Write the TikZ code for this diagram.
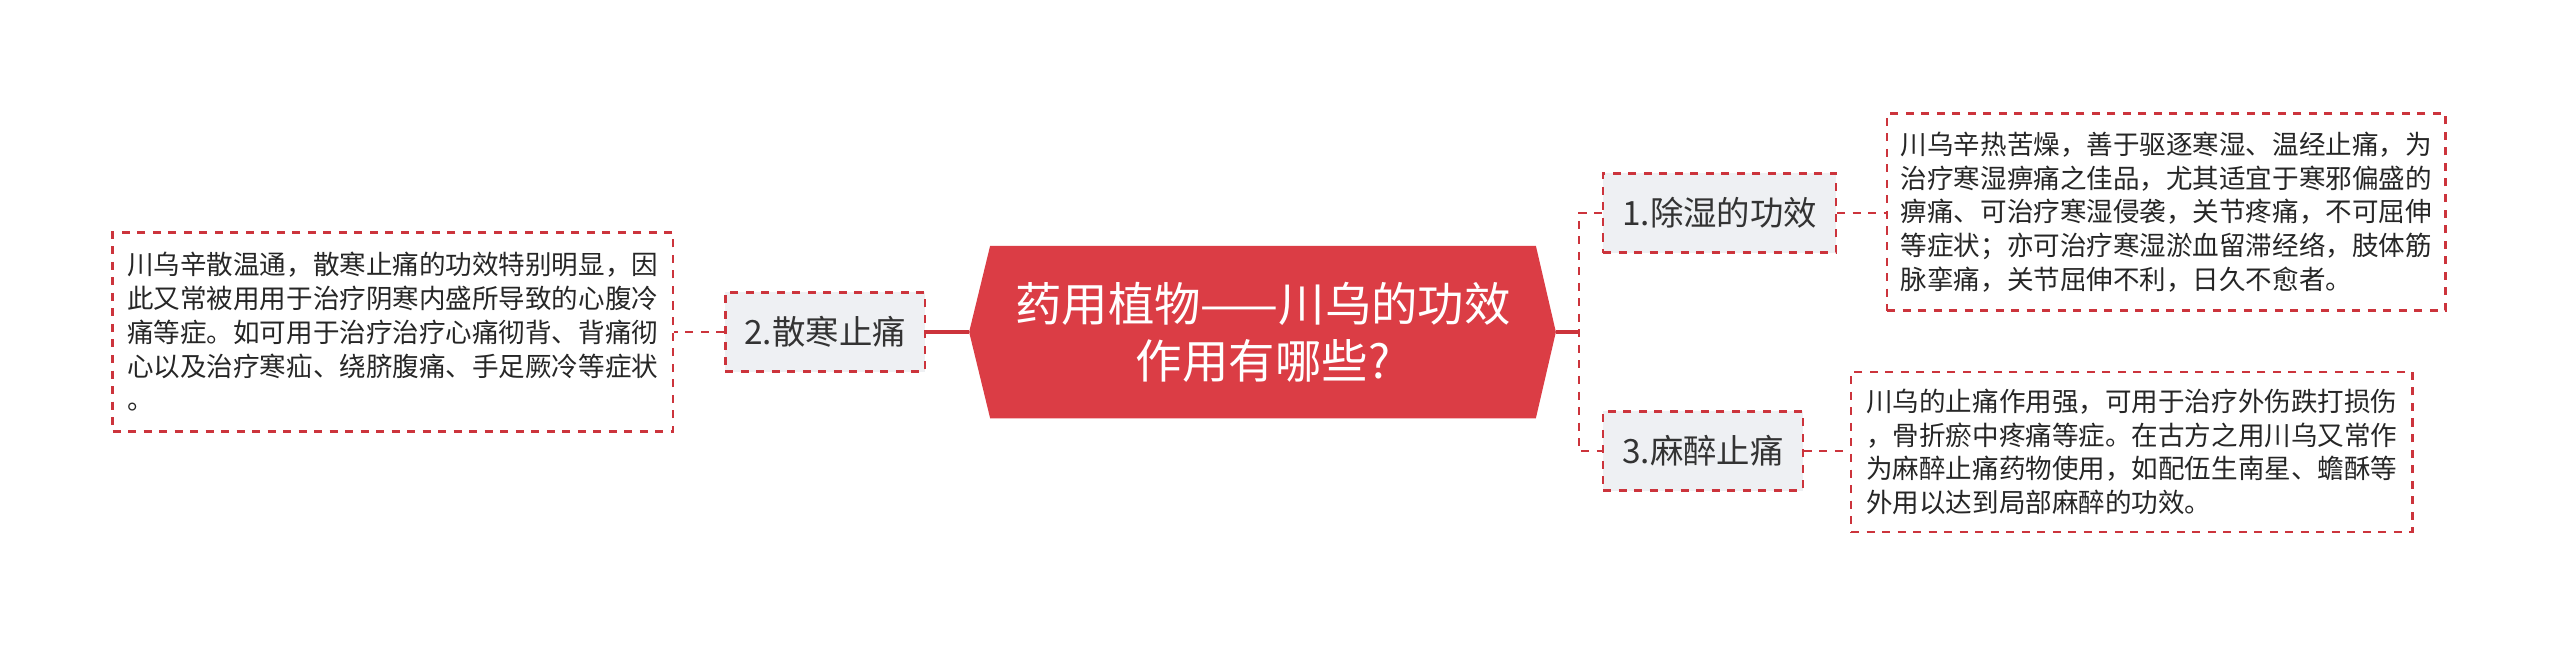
\documentclass[tikz,border=0pt]{standalone}
\usepackage{fontspec}
\newfontfamily\cjk{Noto Sans CJK SC}
\usetikzlibrary{backgrounds}
\definecolor{rootred}{RGB}{219,61,69}
\definecolor{linered}{RGB}{204,52,60}
\definecolor{boxgray}{RGB}{238,240,243}
\definecolor{txtgray}{RGB}{51,51,51}

\begin{document}
\begin{tikzpicture}[x=0.01cm,y=-0.01cm]
\tikzstyle{every node}+=[inner sep=0pt, font=\cjk]
\tikzstyle{dashline}=[draw=linered, line width=0.65pt, dash pattern=on 0.08cm off 0.075cm]
\tikzstyle{branch}=[dashline, fill=boxgray, text=txtgray, inner xsep=0.19cm, minimum height=0.79cm, font=\cjk\fontsize{9.5}{11}\selectfont]
\tikzstyle{detail}=[dashline, fill=white, text=black!85, align=left, font=\cjk\fontsize{7.55}{9.6}\selectfont]
\useasboundingbox (0,0) rectangle (2560,648);
% centre
\node[text=white, align=center, minimum width=5.44cm, minimum height=1.71cm, font=\cjk\fontsize{13.2}{16.2}\selectfont] (root) at (1263,332) {药用植物——川乌的功效\\作用有哪些?};
\coordinate (rootW) at ([xshift=-0.21cm]root.west);
\coordinate (rootE) at ([xshift=0.2cm]root.east);
\coordinate (spine) at ([xshift=0.23cm]rootE);
\begin{scope}[on background layer]
\fill[white] (0,0) rectangle (2560,648);
\fill[rootred] (rootW) -- (root.north west) -- (root.north east) -- (rootE) -- (root.south east) -- (root.south west) -- cycle;
\end{scope}
% branches
\node[branch, anchor=west] (b1) at (1602,213) {1.除湿的功效};
\node[branch, anchor=east] (b2) at (926,332) {2.散寒止痛};
\node[branch, anchor=west] (b3) at (1602,451) {3.麻醉止痛};
% details
\node[detail, anchor=west, minimum width=5.58cm, minimum height=1.97cm] (d1) at (1886,212) {川乌辛热苦燥，善于驱逐寒湿、温经止痛，为\\治疗寒湿痹痛之佳品，尤其适宜于寒邪偏盛的\\痹痛、可治疗寒湿侵袭，关节疼痛，不可屈伸\\等症状；亦可治疗寒湿淤血留滞经络，肢体筋\\脉挛痛，关节屈伸不利，日久不愈者。};
\node[detail, anchor=east, minimum width=5.60cm, minimum height=1.99cm] (d2) at (674,332) {川乌辛散温通，散寒止痛的功效特别明显，因\\此又常被用用于治疗阴寒内盛所导致的心腹冷\\痛等症。如可用于治疗治疗心痛彻背、背痛彻\\心以及治疗寒疝、绕脐腹痛、手足厥冷等症状\\。};
\node[detail, anchor=west, minimum width=5.61cm, minimum height=1.60cm] (d3) at (1850,452) {川乌的止痛作用强，可用于治疗外伤跌打损伤\\，骨折瘀中疼痛等症。在古方之用川乌又常作\\为麻醉止痛药物使用，如配伍生南星、蟾酥等\\外用以达到局部麻醉的功效。};
% connectors
\draw[linered, line width=0.9pt] (rootW) -- (b2.east);
\draw[dashline] (b2.west) -- (d2.east);
\draw[linered, line width=0.9pt] (rootE) -- (spine);
\draw[dashline] (b1.west) -| (spine) |- (b3.west);
\draw[dashline] (b1.east) -- (b1.east -| d1.west);
\draw[dashline] (b3.east) -- (b3.east -| d3.west);
\end{tikzpicture}
\end{document}
